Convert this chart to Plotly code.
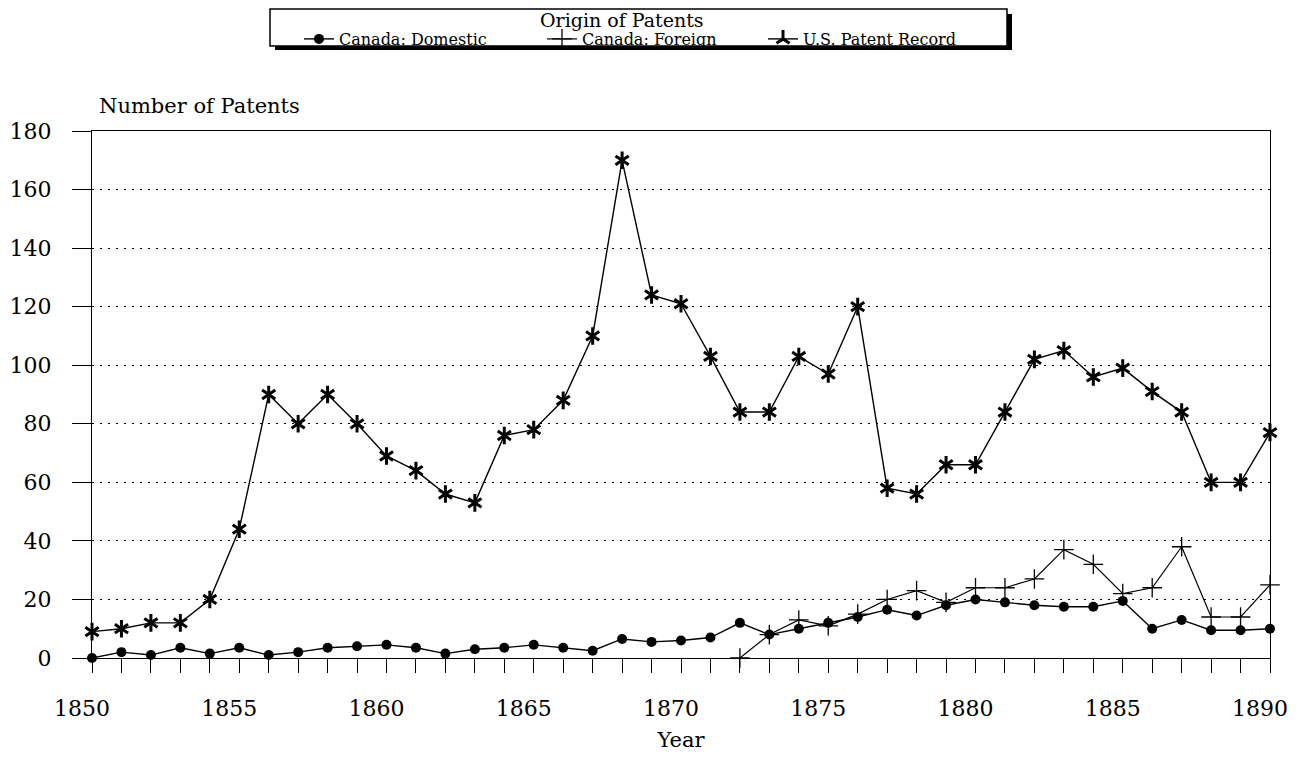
import plotly.graph_objects as go

years = list(range(1850, 1891))
canada_domestic = [0, 2, 1, 3.5, 1.5, 3.5, 1, 2, 3.5, 4, 4.5, 3.5, 1.5, 3, 3.5, 4.5, 3.5, 2.5, 6.5, 5.5, 6, 7, 12, 8, 10, 12, 14, 16.5, 14.5, 18, 20, 19, 18, 17.5, 17.5, 19.5, 10, 13, 9.5, 9.5, 10]
canada_foreign = [None]*22 + [0, 8, 13, 11, 15, 20, 23, 19, 24, 24, 27, 37, 32, 22, 24, 38, 14, 14, 25]
us_record = [9, 10, 12, 12, 20, 44, 90, 80, 90, 80, 69, 64, 56, 53, 76, 78, 88, 110, 170, 124, 121, 103, 84, 84, 103, 97, 120, 58, 56, 66, 66, 84, 102, 105, 96, 99, 91, 84, 60, 60, 77]
y_ticks = [0, 20, 40, 60, 80, 100, 120, 140, 160, 180]
x_ticks = [1850, 1855, 1860, 1865, 1870, 1875, 1880, 1885, 1890]

FONT = "DejaVu Serif"
OFF = 8  # page body margin
W, H = 1299 - OFF, 760 - OFF
L, R, T, B = 92 - OFF, 29, 131 - OFF, 102
PW, PH = W - L - R, H - T - B

def px(x):  # page pixel -> paper x
    return (x - OFF - L) / PW

def py(y):  # page pixel -> paper y
    return (H - B - (y - OFF)) / PH

fig = go.Figure()
fig.add_trace(go.Scatter(x=years, y=canada_domestic, name="Canada: Domestic", mode="lines+markers",
                         line=dict(color="black", width=1.4), marker=dict(symbol="circle", size=10, color="black"),
                         cliponaxis=False, legend="legend"))
fig.add_trace(go.Scatter(x=years, y=canada_foreign, name="Canada: Foreign", mode="lines+markers",
                         line=dict(color="black", width=1.2),
                         marker=dict(symbol="cross-thin-open", size=14, color="black", line=dict(width=1.3, color="black")),
                         cliponaxis=False, legend="legend2"))
fig.add_trace(go.Scatter(x=years, y=us_record, name="U.S. Patent Record", mode="lines+markers",
                         line=dict(color="black", width=1.4), legendgroup="us",
                         marker=dict(symbol="y-up-open", size=11, color="black", line=dict(width=3, color="black")),
                         cliponaxis=False, legend="legend3"))
fig.add_trace(go.Scatter(x=years, y=us_record, name="U.S. Patent Record", mode="markers", showlegend=False,
                         legendgroup="us",
                         marker=dict(symbol="y-down-open", size=11, color="black", line=dict(width=3, color="black")),
                         cliponaxis=False, legend="legend3"))

leg_common = dict(orientation="h", yanchor="middle", bgcolor="rgba(0,0,0,0)", borderwidth=0,
                  font=dict(size=16, family=FONT), itemwidth=30)

fig.update_layout(
    width=W, height=H,
    margin=dict(l=L, r=R, t=T, b=B, autoexpand=False),
    paper_bgcolor="white", plot_bgcolor="white",
    font=dict(family=FONT, color="black", size=22),
    showlegend=True,
    legend=dict(x=px(299), y=py(39), **leg_common),
    legend2=dict(x=px(542), y=py(39), **leg_common),
    legend3=dict(x=px(763), y=py(39), **leg_common),
    xaxis=dict(range=[1850, 1890], tickvals=x_ticks, ticks="outside", ticklen=14, tickcolor="black",
               tickwidth=1, showline=True, linecolor="black", linewidth=1.2, mirror=True,
               showgrid=False, zeroline=False, tickfont=dict(size=22, family=FONT), ticklabelstandoff=16,
               ticklabelshift=-10,
               minor=dict(dtick=1, tick0=1850, ticks="outside", ticklen=14, tickcolor="black", showgrid=False),
               title=dict(text="Year", font=dict(size=21, family=FONT), standoff=12)),
    yaxis=dict(range=[0, 180], tickvals=y_ticks, ticks="outside", ticklen=19, tickcolor="black",
               tickwidth=1, showline=True, linecolor="black", linewidth=1.2, mirror=True,
               showgrid=True, gridcolor="black", gridwidth=1, griddash="2px,6px", zeroline=False,
               tickfont=dict(size=22, family=FONT), ticklabelstandoff=16),
)

# legend frame with drop shadow
fig.add_shape(type="rect", xref="paper", yref="paper", x0=px(1007), x1=px(1012), y0=py(50), y1=py(14),
              fillcolor="black", line=dict(width=0), layer="below")
fig.add_shape(type="rect", xref="paper", yref="paper", x0=px(275), x1=px(1012), y0=py(50), y1=py(46),
              fillcolor="black", line=dict(width=0), layer="below")
fig.add_shape(type="rect", xref="paper", yref="paper", x0=px(270), x1=px(1007), y0=py(46), y1=py(9),
              fillcolor="white", line=dict(width=1.5, color="black"), layer="below")
fig.add_annotation(text="Origin of Patents", xref="paper", yref="paper", x=px(622), y=py(20),
                   xanchor="center", yanchor="middle", showarrow=False, font=dict(size=19, family=FONT))
fig.add_annotation(text="Number of Patents", xref="paper", yref="paper", x=px(97), xanchor="left",
                   y=py(106), yanchor="middle", showarrow=False, font=dict(size=21, family=FONT))
fig.write_html("out.html")
